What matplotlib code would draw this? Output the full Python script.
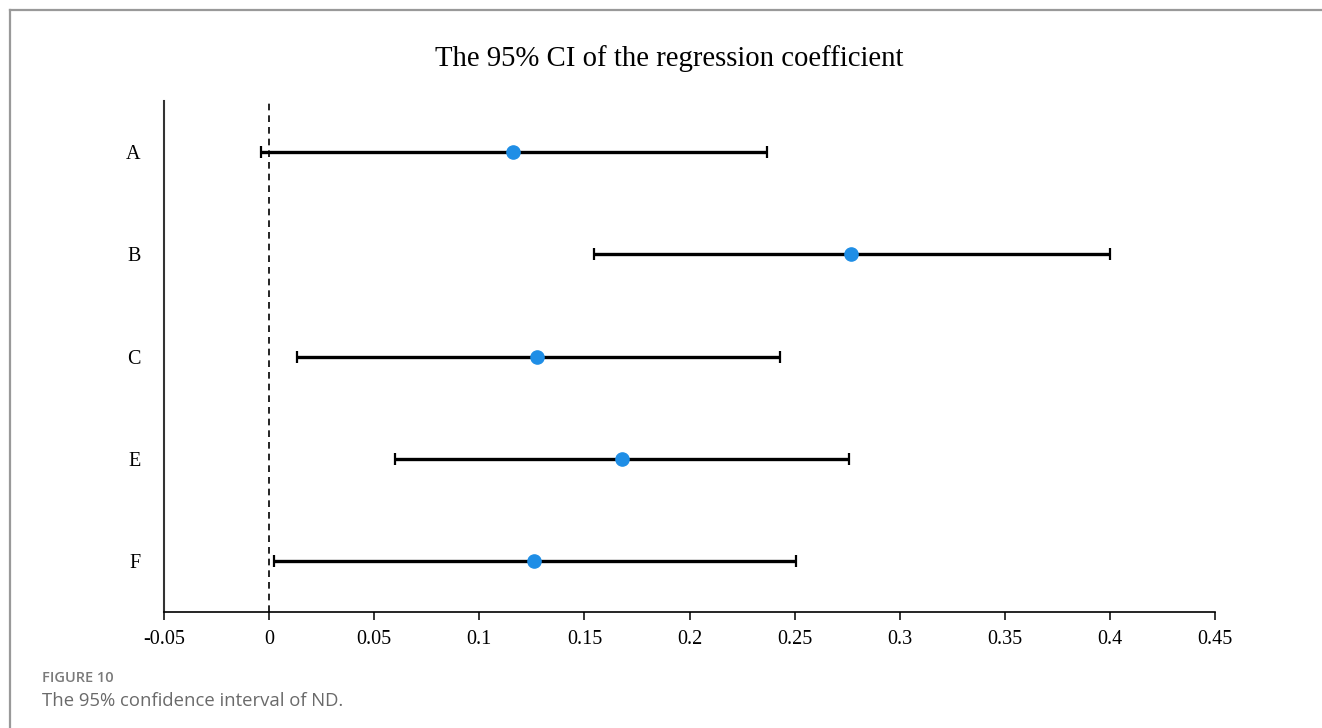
import matplotlib.pyplot as plt
from matplotlib.lines import Line2D

# Data
labels = ['A', 'B', 'C', 'E', 'F']
coef = [0.116, 0.277, 0.1275, 0.168, 0.126]
lower = [-0.0038, 0.1546, 0.0133, 0.0599, 0.0024]
upper = [0.237, 0.400, 0.2431, 0.276, 0.2507]
xticks = [-0.05, 0, 0.05, 0.1, 0.15, 0.2, 0.25, 0.3, 0.35, 0.4, 0.45]
xticklabels = ['-0.05', '0', '0.05', '0.1', '0.15', '0.2', '0.25', '0.3', '0.35', '0.4', '0.45']

serif = ['Liberation Serif', 'DejaVu Serif']

fig = plt.figure(figsize=(13.22, 7.28), dpi=100)
W, H = 1322, 728
# axes box in pixel coords: x 164..1215, y 101..612
ax = fig.add_axes([164 / W, 1 - 612 / H, (1215 - 164) / W, (612 - 101) / H])

ypos = list(range(len(labels), 0, -1))
err = [[c - lo for c, lo in zip(coef, lower)], [hi - c for c, hi in zip(coef, upper)]]
ax.errorbar(coef, ypos, xerr=err, fmt='none', ecolor='black', elinewidth=2.4,
            capsize=4.5, capthick=1.6, zorder=2)
ax.plot(coef, ypos, 'o', color='#1f8ee6', markersize=9.5, zorder=3)
ax.axvline(0, color='black', linestyle=(0, (4, 3)), linewidth=1.2, zorder=1)

ax.set_xlim(-0.05, 0.45)
ax.set_ylim(0.5, 5.5)
ax.set_xticks(xticks)
ax.set_xticklabels(xticklabels, fontfamily=serif, fontsize=14.5)
ax.set_yticks(ypos)
ax.set_yticklabels(labels, fontfamily=serif, fontsize=14.5)
ax.tick_params(axis='x', direction='out', length=6, width=1.1, pad=7)
ax.tick_params(axis='y', length=0, pad=17)
for s in ['top', 'right']:
    ax.spines[s].set_visible(False)
ax.spines['left'].set_linewidth(1.5)
ax.spines['left'].set_color('#333333')
ax.spines['bottom'].set_linewidth(1.2)

fig.text(669 / W, 1 - 59 / H, 'The 95% CI of the regression coefficient',
         fontfamily=serif, fontsize=20.7, ha='center', va='center')

# caption
fig.text(42 / W, 1 - 678 / H, 'FIGURE 10', fontfamily='Open Sans', fontsize=10.5,
         fontweight='semibold', color='#7a7a7a', ha='left', va='center')
fig.text(42 / W, 1 - 701 / H, 'The 95% confidence interval of ND.', fontfamily='Open Sans',
         fontsize=13.3, color='#6a6a6a', ha='left', va='center')

# frame lines
fig.add_artist(Line2D([10 / W, 1], [1 - 10 / H, 1 - 10 / H], color='#999999', linewidth=1.6))
fig.add_artist(Line2D([10 / W, 10 / W], [0, 1 - 10 / H], color='#999999', linewidth=1.6))

fig.savefig('out.png', dpi=100)
